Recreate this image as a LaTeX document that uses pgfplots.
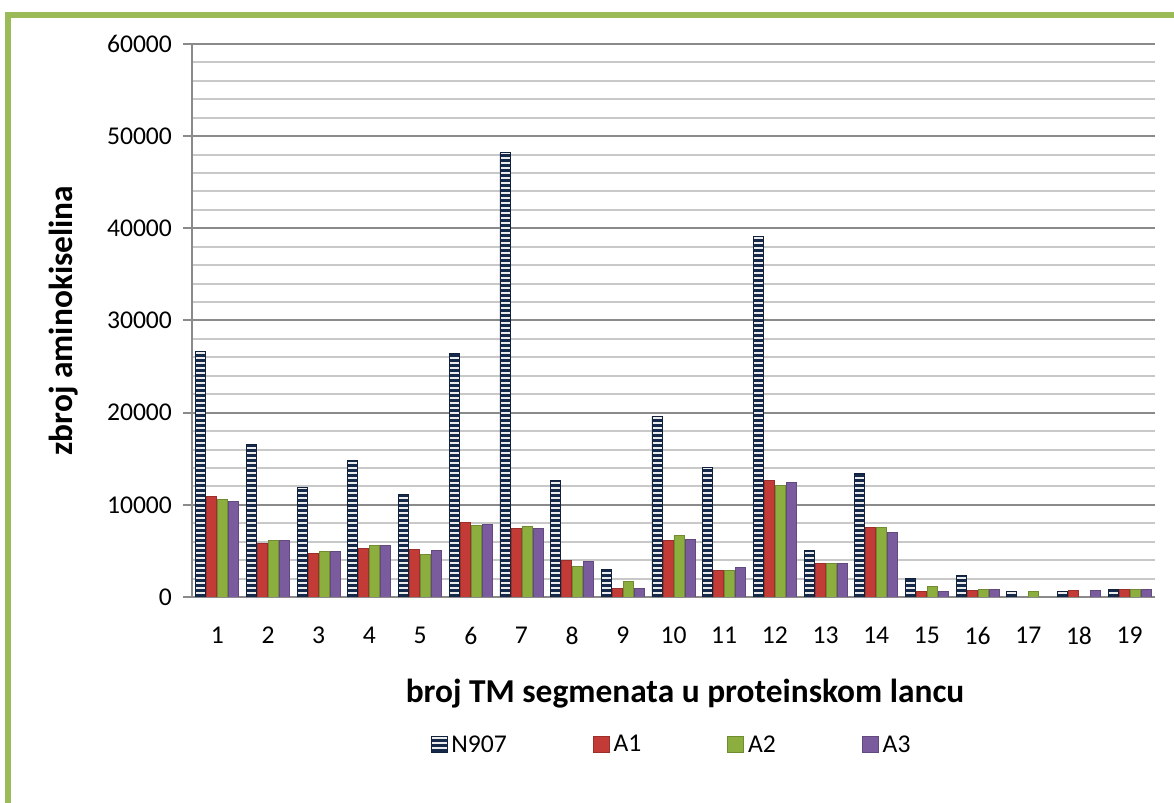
\documentclass[border=0pt]{standalone}
\usepackage{pgfplots}
\pgfplotsset{compat=1.18}
\usepackage{fontspec}
\setmainfont{Carlito}
\usetikzlibrary{patterns}

\definecolor{frameGreen}{HTML}{9BBB59}
\definecolor{navyBar}{HTML}{15294A}
\definecolor{redBar}{HTML}{C23B36}
\definecolor{greenBar}{HTML}{8CAE3E}
\definecolor{purpleBar}{HTML}{7A5C9E}
\definecolor{gridMajor}{HTML}{8A8A8A}
\definecolor{gridMinor}{HTML}{C8C8C8}

% stripes for the N907 bars
\pgfdeclarepatternformonly{hstripes}{\pgfqpoint{-1pt}{-1pt}}{\pgfqpoint{4pt}{4pt}}{\pgfqpoint{3pt}{2.5pt}}{%
  \pgfsetlinewidth{0.9pt}%
  \pgfpathmoveto{\pgfqpoint{-1pt}{0pt}}%
  \pgfpathlineto{\pgfqpoint{4pt}{0pt}}%
  \pgfusepath{stroke}}

\begin{document}
\begin{tikzpicture}
  \useasboundingbox (-96pt,-103pt) rectangle (491pt,298.5pt);
  \draw[frameGreen, line width=3pt] (-92pt,-110pt) -- (-92pt,291pt) -- (500pt,291pt);
  \begin{axis}[
      at={(0,0)}, anchor=south west,
      scale only axis,
      width=481.5pt, height=276.5pt,
      ybar=0.5pt, bar width=5pt,
      xmin=0.5, xmax=19.5,
      ymin=0, ymax=60000,
      xtick={1,...,19},
      ytick distance=10000,
      minor y tick num=4,
      ymajorgrids, yminorgrids,
      major grid style={gridMajor, line width=1pt},
      minor grid style={gridMinor, line width=1pt},
      axis x line*=bottom, axis y line*=left,
      axis line style={gridMajor, line width=1pt},
      tick align=outside,
      xtick style={draw=none},
      ytick style={gridMajor, line width=1pt},
      major tick length=4.5pt, minor tick length=0pt,
      scaled y ticks=false,
      /pgf/number format/1000 sep={},
      /pgf/number format/assume math mode=true,
      tick label style={font=\fontsize{12.8}{15}\selectfont},
      xticklabel style={yshift=-7pt},
      yticklabel style={xshift=-2pt},
      xlabel={broj TM segmenata u proteinskom lancu},
      ylabel={zbroj aminokiselina},
      every axis x label/.style={at={(axis description cs:0.512,-0.1754)}, anchor=center,
        font=\fontsize{16.7}{19}\bfseries},
      every axis y label/.style={at={(axis description cs:-0.1329,0.5)}, anchor=center,
        rotate=90, font=\fontsize{16.7}{19}\bfseries},
      legend columns=4,
      legend style={at={(axis description cs:0.499,-0.268)}, anchor=center, draw=none,
        font=\fontsize{12.8}{15}\selectfont, /tikz/every even column/.append style={column sep=41pt}},
      legend image code/.code={\draw[#1] (0pt,-3.5pt) rectangle (8pt,4.5pt);},
    ]
    \addplot[fill=navyBar, draw=navyBar!80!black, postaction={pattern=hstripes, pattern color=white!85!gray}] coordinates {
      (1,26600) (2,16600) (3,11900) (4,14800) (5,11100) (6,26400) (7,48200)
      (8,12600) (9,2950) (10,19600) (11,14100) (12,39100) (13,5050) (14,13400)
      (15,2000) (16,2300) (17,600) (18,600) (19,830)
    };
    \addlegendentry{N907}
    \addplot[fill=redBar, draw=redBar!80!black] coordinates {
      (1,10900) (2,5800) (3,4700) (4,5300) (5,5200) (6,8100) (7,7450)
      (8,4000) (9,940) (10,6150) (11,2900) (12,12600) (13,3650) (14,7500)
      (15,600) (16,730) (18,730) (19,830)
    };
    \addlegendentry{A1}
    \addplot[fill=greenBar, draw=greenBar!80!black] coordinates {
      (1,10600) (2,6150) (3,4950) (4,5600) (5,4600) (6,7800) (7,7650)
      (8,3300) (9,1700) (10,6700) (11,2900) (12,12100) (13,3650) (14,7500)
      (15,1150) (16,830) (17,600) (19,830)
    };
    \addlegendentry{A2}
    \addplot[fill=purpleBar, draw=purpleBar!80!black] coordinates {
      (1,10400) (2,6150) (3,4950) (4,5600) (5,5050) (6,7900) (7,7450)
      (8,3900) (9,900) (10,6250) (11,3200) (12,12450) (13,3650) (14,7000)
      (15,600) (16,830) (18,730) (19,830)
    };
    \addlegendentry{A3}
  \end{axis}
\end{tikzpicture}
\end{document}
